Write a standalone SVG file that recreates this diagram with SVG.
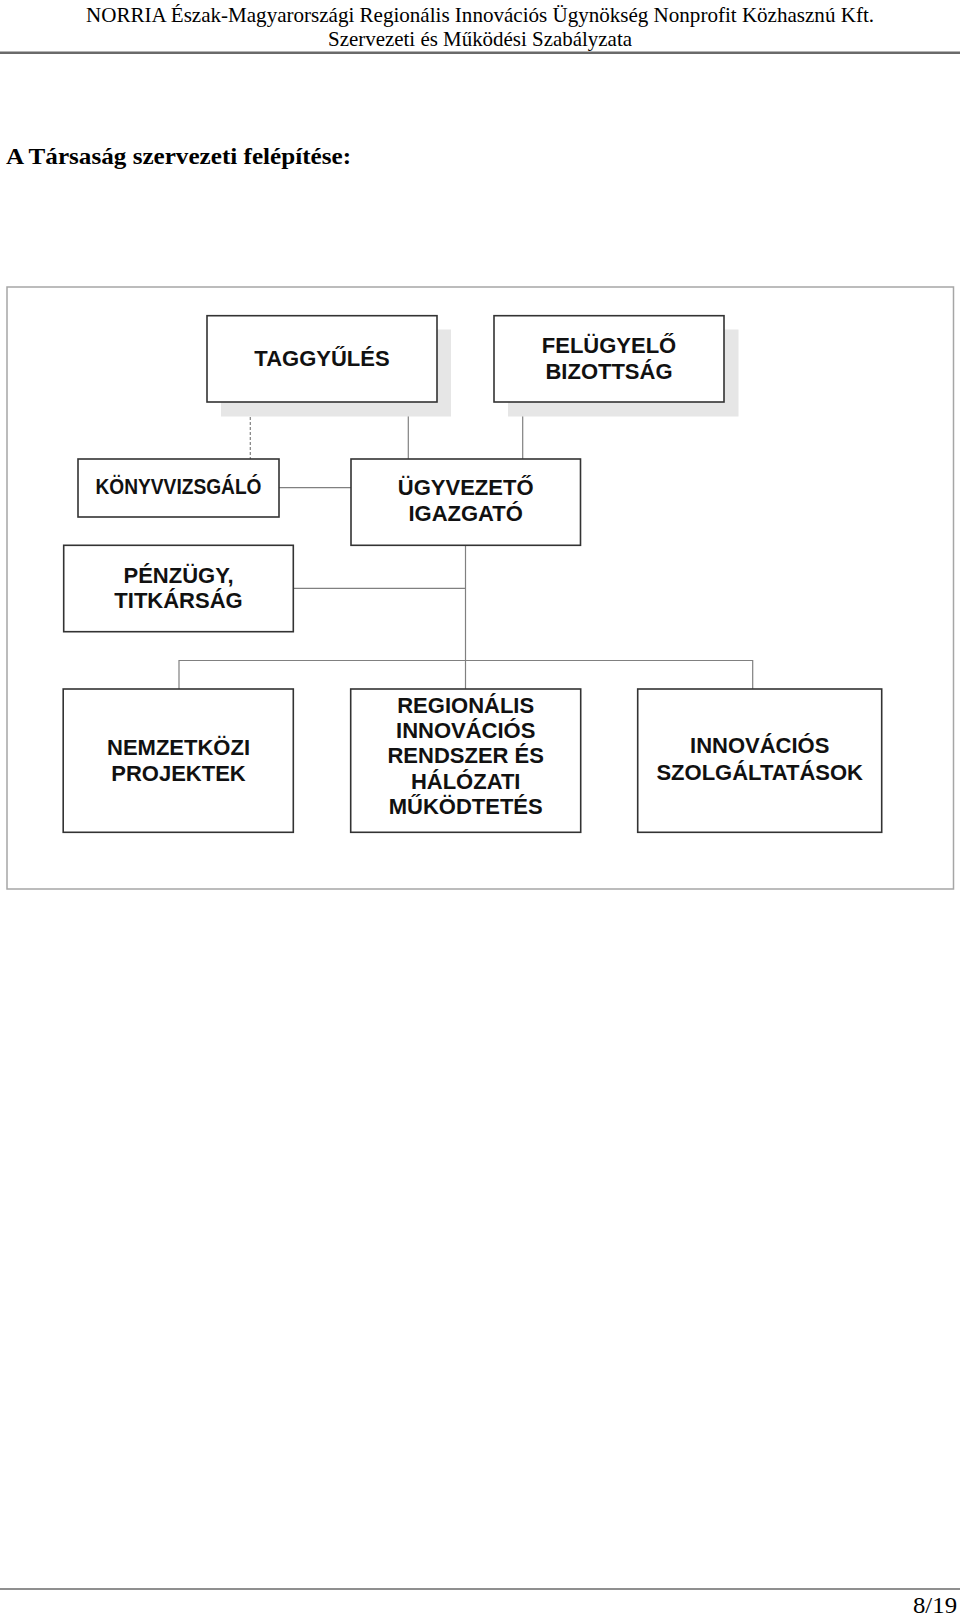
<svg xmlns="http://www.w3.org/2000/svg" width="960" height="1617" viewBox="0 0 960 1617">
<style>
.hdr{font-family:"Liberation Serif","Times New Roman",serif;fill:#000}
.box{fill:#fff;stroke:#333;stroke-width:1.6}
.shadow{fill:#e6e6e6}
.lbl{font-family:"Liberation Sans",Arial,sans-serif;font-weight:bold;font-size:22px;fill:#111;text-anchor:middle}
.con{stroke:#808080;stroke-width:1.2;fill:none}
</style>
<rect width="960" height="1617" fill="#fff"/>
<text class="hdr" x="480" y="21.5" font-size="21.5" text-anchor="middle" textLength="788" lengthAdjust="spacingAndGlyphs">NORRIA Észak-Magyarországi Regionális Innovációs Ügynökség Nonprofit Közhasznú Kft.</text>
<text class="hdr" x="480" y="46" font-size="21.5" text-anchor="middle" textLength="304" lengthAdjust="spacingAndGlyphs">Szervezeti és Működési Szabályzata</text>
<line x1="0" y1="52.8" x2="960" y2="52.8" stroke="#6a6a6a" stroke-width="2.5"/>
<text class="hdr" x="6" y="164" font-size="24" font-weight="bold" textLength="345" lengthAdjust="spacingAndGlyphs">A Társaság szervezeti felépítése:</text>
<rect x="7" y="287" width="946.5" height="602" fill="none" stroke="#a6a6a6" stroke-width="1.5"/>
<g id="connectors">
<line class="con" x1="250.3" y1="402" x2="250.3" y2="459" stroke-dasharray="3,2"/>
<line class="con" x1="408.3" y1="402" x2="408.3" y2="459"/>
<line class="con" x1="522.7" y1="402" x2="522.7" y2="459"/>
<line class="con" x1="279" y1="487.7" x2="351" y2="487.7"/>
<line class="con" x1="465.5" y1="545.3" x2="465.5" y2="689"/>
<line class="con" x1="293.3" y1="588.3" x2="465.5" y2="588.3"/>
<polyline class="con" points="179,689 179,660.5 752.7,660.5 752.7,689"/>
</g>
<g id="taggyules">
<rect class="shadow" x="221" y="329.5" width="230" height="87"/>
<rect class="box" x="207" y="315.7" width="230" height="86.3"/>
<text class="lbl" x="322" y="366">TAGGYŰLÉS</text>
</g>
<g id="felugyelo">
<rect class="shadow" x="508" y="329.5" width="230.5" height="87"/>
<rect class="box" x="494" y="315.7" width="230" height="86.3"/>
<text class="lbl" x="609" y="352.7">FELÜGYELŐ</text>
<text class="lbl" x="609" y="378.7">BIZOTTSÁG</text>
</g>
<g id="konyvvizsgalo">
<rect class="box" x="78" y="459" width="201" height="58"/>
<text class="lbl" x="178.5" y="493.5" font-size="17.5" textLength="166" lengthAdjust="spacingAndGlyphs">KÖNYVVIZSGÁLÓ</text>
</g>
<g id="ugyvezeto">
<rect class="box" x="351" y="459" width="229.5" height="86.3"/>
<text class="lbl" x="465.7" y="495">ÜGYVEZETŐ</text>
<text class="lbl" x="465.7" y="521">IGAZGATÓ</text>
</g>
<g id="penzugy">
<rect class="box" x="63.7" y="545.3" width="229.6" height="86.4"/>
<text class="lbl" x="178.5" y="582.7">PÉNZÜGY,</text>
<text class="lbl" x="178.5" y="607.7">TITKÁRSÁG</text>
</g>
<g id="nemzetkozi">
<rect class="box" x="63.2" y="689" width="230.1" height="143.3"/>
<text class="lbl" x="178.5" y="755">NEMZETKÖZI</text>
<text class="lbl" x="178.5" y="780.7">PROJEKTEK</text>
</g>
<g id="regionalis">
<rect class="box" x="350.7" y="689" width="230" height="143.3"/>
<text class="lbl" x="465.7" y="712.7">REGIONÁLIS</text>
<text class="lbl" x="465.7" y="738">INNOVÁCIÓS</text>
<text class="lbl" x="465.7" y="763.3">RENDSZER ÉS</text>
<text class="lbl" x="465.7" y="788.7">HÁLÓZATI</text>
<text class="lbl" x="465.7" y="814">MŰKÖDTETÉS</text>
</g>
<g id="innovacios">
<rect class="box" x="637.7" y="689" width="244" height="143.3"/>
<text class="lbl" x="759.7" y="753">INNOVÁCIÓS</text>
<text class="lbl" x="759.7" y="780">SZOLGÁLTATÁSOK</text>
</g>
<line x1="0" y1="1589" x2="960" y2="1589" stroke="#6a6a6a" stroke-width="1.5"/>
<text class="hdr" x="957" y="1613" font-size="23" text-anchor="end" textLength="44" lengthAdjust="spacingAndGlyphs">8/19</text>
</svg>
